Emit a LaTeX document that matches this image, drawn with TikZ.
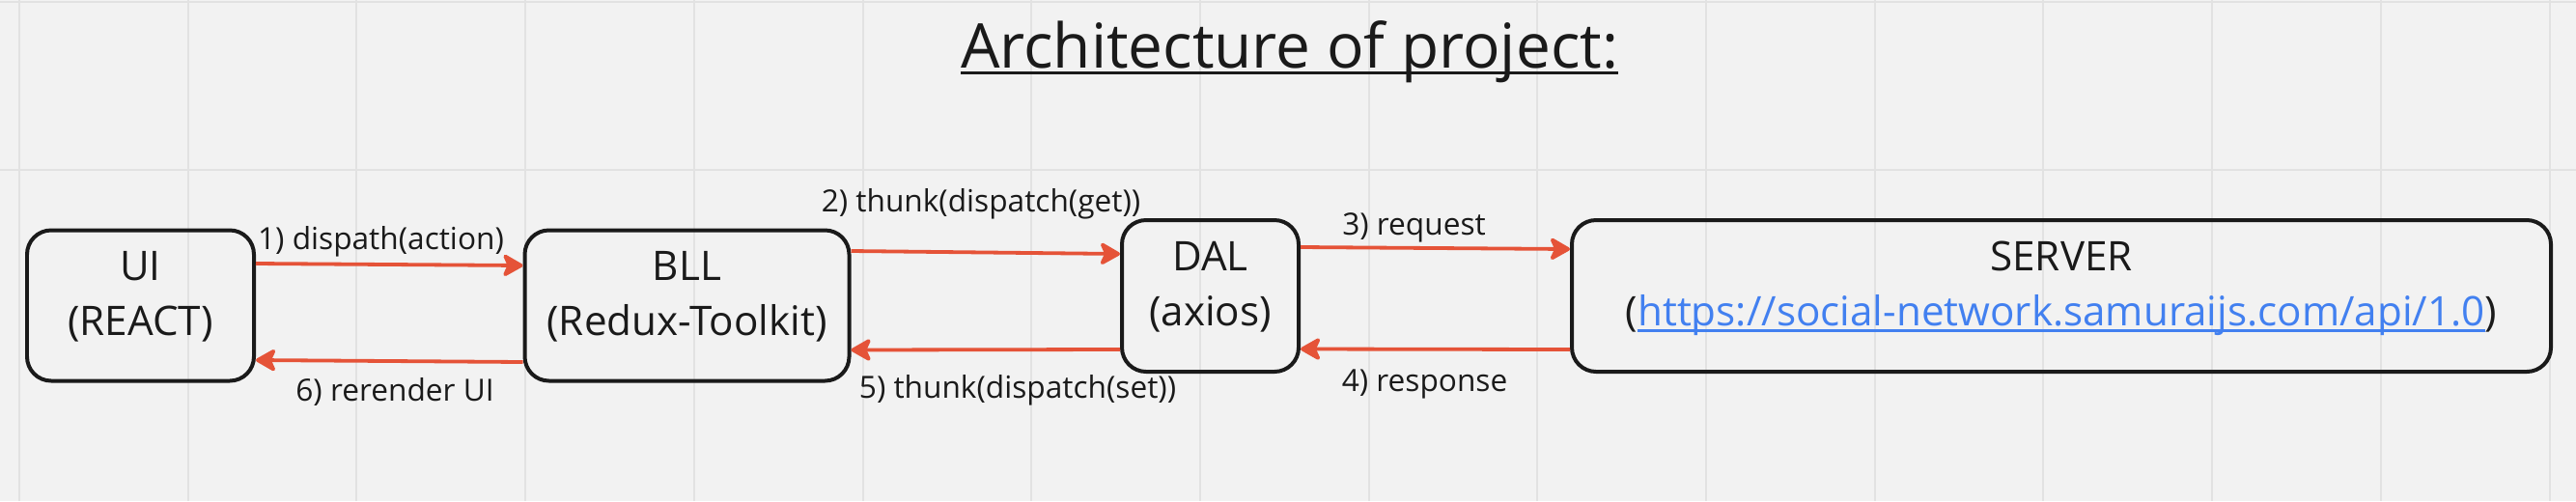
\documentclass[tikz,border=0pt]{standalone}
\usepackage{fontspec}
\setmainfont{Open Sans}
\usetikzlibrary{arrows.meta,positioning}
\definecolor{boardbg}{RGB}{242,242,242}
\definecolor{gridgray}{RGB}{226,226,226}
\definecolor{inkblack}{RGB}{26,26,26}
\definecolor{flowred}{RGB}{229,83,56}
\definecolor{linkblue}{RGB}{66,128,240}
\newsavebox{\ulbox}
\newcommand{\ultext}[4]{\sbox{\ulbox}{#4}\rlap{\textcolor{#1}{\rule[-#2]{\wd\ulbox}{#3}}}\usebox{\ulbox}}

\begin{document}
\begin{tikzpicture}
      \tikzstyle{layer} = [draw=inkblack, line width=0.04cm, rounded corners=0.25cm, minimum height=1.56cm]
      \tikzstyle{layertext} = [align=center, inner sep=0pt, anchor=north, text=inkblack, font=\fontsize{12pt}{16.3pt}\selectfont]
      \tikzstyle{flow} = [draw=flowred, line width=0.038cm, -{Stealth[length=0.24cm, width=0.27cm, inset=0.06cm, round]}]
      \tikzstyle{flowlabel} = [inner sep=0pt, anchor=base, text=inkblack, font=\fontsize{9pt}{11pt}\selectfont]

      \useasboundingbox[fill=boardbg] (0,0) rectangle (26.68,-5.19);
      \foreach \x in {0,...,15}{
        \draw[gridgray, line width=0.02cm] (0.20+1.747*\x,0) -- (0.20+1.747*\x,-5.19);
      }
      \foreach \y in {1,2}{
        \draw[gridgray, line width=0.02cm] (0,-0.0173-1.747*\y+1.747) -- (26.68,-0.0173-1.747*\y+1.747);
      }

      \node[inner sep=0pt, anchor=base, text=inkblack, font=\fontsize{18.2pt}{22pt}\selectfont] (title) at (13.355,-0.70)
        {\ultext{inkblack}{2.08pt}{0.94pt}{Architecture of project:}};

      \node[layer, minimum width=2.35cm] (ui) at (1.455,-3.165) {};
      \node[layer, minimum width=3.36cm] (bll) at (7.115,-3.165) {};
      \node[layer, minimum width=1.83cm, minimum height=1.57cm] (dal) at (12.535,-3.065) {};
      \node[layer, minimum width=10.14cm, minimum height=1.57cm] (server) at (21.35,-3.065) {};

      \node[layertext] (uitext) at ([yshift=0.573cm]ui.center) {UI\\(REACT)};
      \node[layertext] (blltext) at ([yshift=0.573cm]bll.center) {BLL\\(Redux-Toolkit)};
      \node[layertext] (daltext) at ([yshift=0.573cm]dal.center) {DAL\\(axios)};
      \node[layertext] (servertext) at ([yshift=0.573cm]server.center)
        {SERVER\\(\textcolor{linkblue}{\ultext{linkblue}{1.88pt}{0.9pt}{https://social-network.samuraijs.com/api/1.0}})};

      \draw[flow] ([yshift=0.435cm]ui.east) -- ([yshift=0.415cm]bll.west);
      \draw[flow] ([yshift=0.565cm]bll.east) -- ([yshift=0.435cm]dal.west);
      \draw[flow] ([yshift=0.505cm]dal.east) -- ([yshift=0.485cm]server.west);
      \draw[flow] ([yshift=-0.555cm]server.west) -- ([yshift=-0.55cm]dal.east);
      \draw[flow] ([yshift=-0.555cm]dal.west) -- ([yshift=-0.46cm]bll.east);
      \draw[flow] ([yshift=-0.585cm]bll.west) -- ([yshift=-0.565cm]ui.east);

      \node[flowlabel] (l1) at (3.945,-2.58) {1) dispath(action)};
      \node[flowlabel] (l2) at (10.16,-2.19) {2) thunk(dispatch(get))};
      \node[flowlabel] (l3) at (14.645,-2.43) {3) request};
      \node[flowlabel] (l4) at (14.755,-4.05) {4) response};
      \node[flowlabel] (l5) at (10.54,-4.12) {5) thunk(dispatch(set))};
      \node[flowlabel] (l6) at (4.09,-4.15) {6) rerender UI};
    \end{tikzpicture}
\end{document}
